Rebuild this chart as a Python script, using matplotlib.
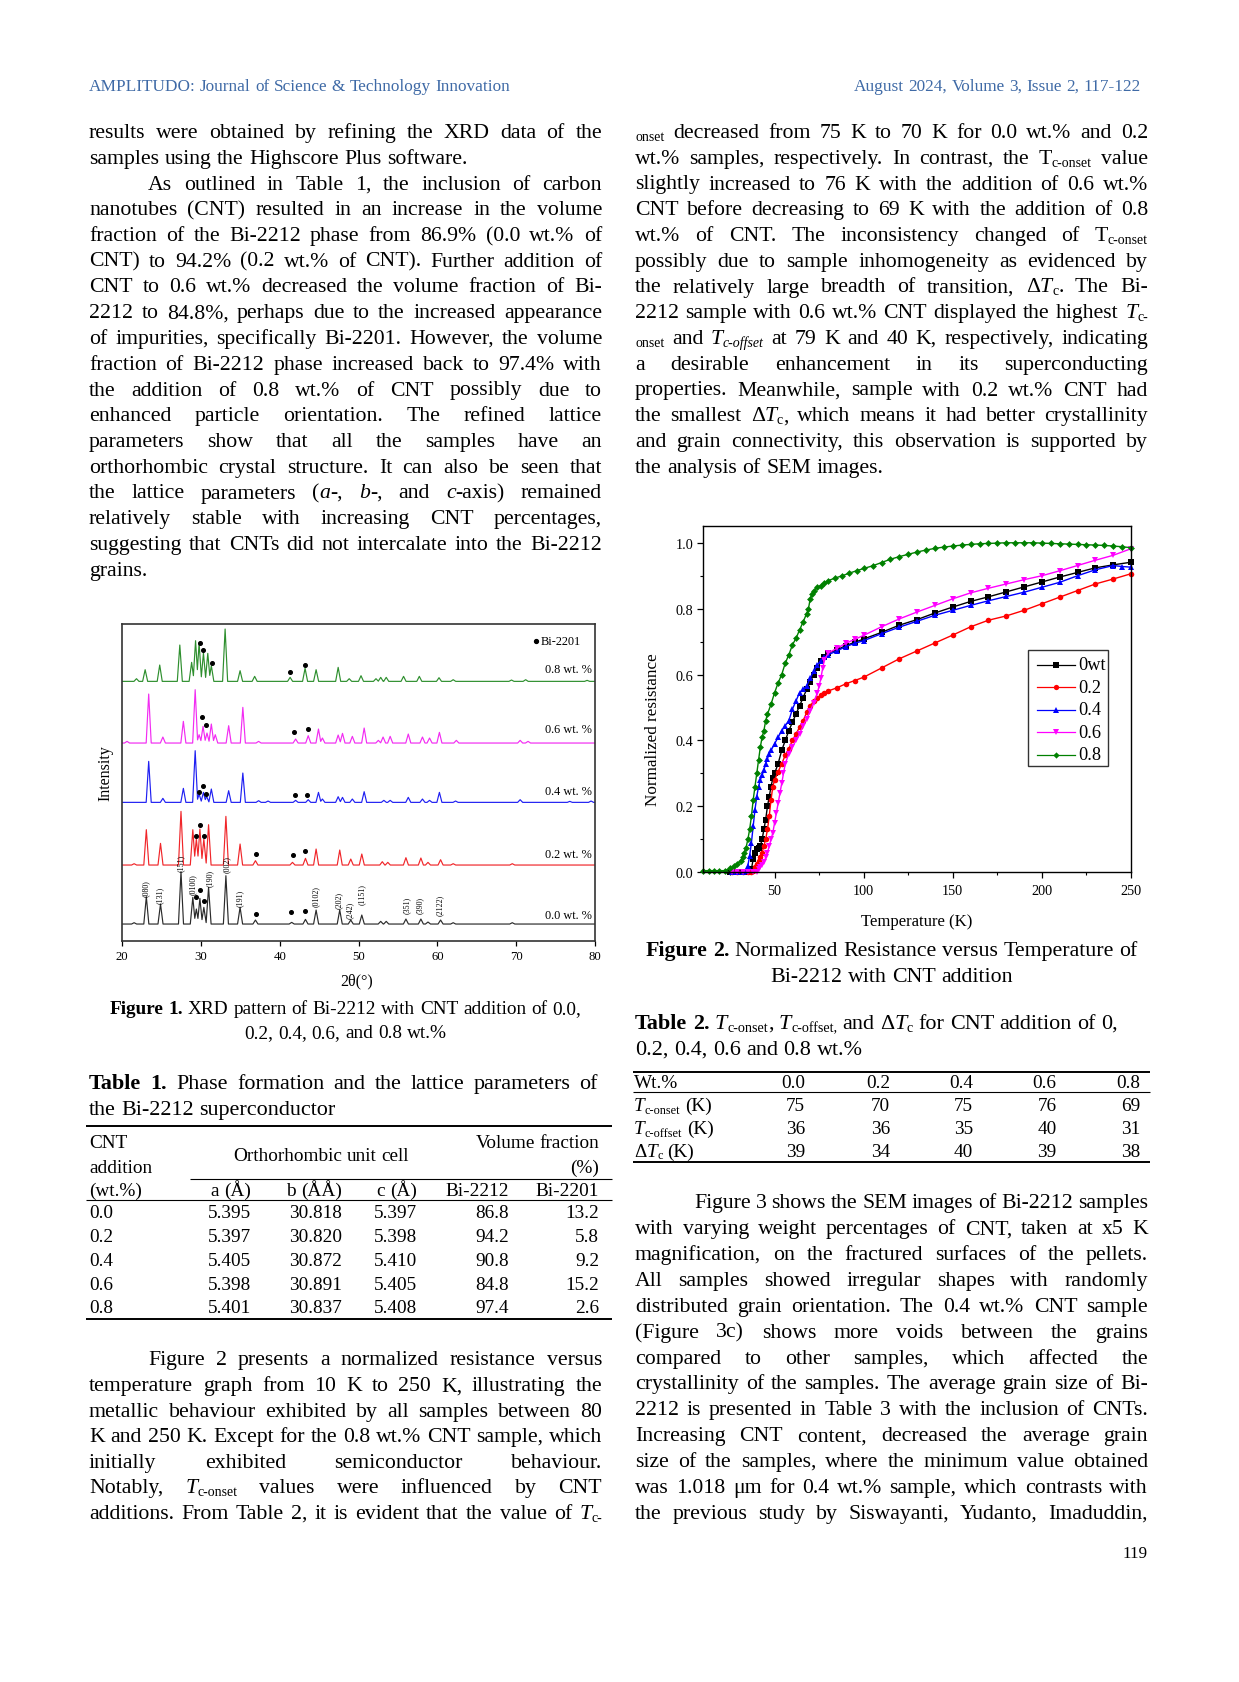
import re
import matplotlib
matplotlib.use('Agg')
import matplotlib.pyplot as plt
from matplotlib.ticker import MultipleLocator, FormatStrFormatter
from matplotlib.patches import Rectangle

# ---------------------------------------------------------------- data
# Figure 1 (XRD) : peak positions (2theta, deg) and heights (arb. units) per sample
xrd_labels = ["0.0 wt. %", "0.2 wt. %", "0.4 wt. %", "0.6 wt. %", "0.8 wt. %"]
xrd_colors = ["#2b2b2b", "#f0262a", "#1f1ff2", "#f22cf2", "#2e8f2e"]
xrd_base = [50, 227, 415, 593, 778]
xrd_label_y = [77, 260, 450, 635, 815]

pos_00 = [21.5, 23.05, 24.85, 27.45, 28.95, 29.4, 29.85, 30.35, 30.95, 33.15, 34.95, 36.9, 41.5, 43.25,
          44.6, 47.6, 49.0, 50.4, 52.8, 53.5, 56.0, 57.9, 58.8, 60.4, 62.0, 69.5]
h_00 = [4, 82, 60, 157, 80, 45, 77, 50, 110, 145, 50, 12, 5, 14, 42, 42, 12, 27, 8, 8, 15, 15, 6, 12, 4, 4]

pos_02 = [21.5, 23.05, 24.85, 27.45, 28.95, 29.4, 29.85, 30.35, 30.95, 33.15, 34.95, 36.9, 41.6, 43.25,
          44.6, 47.6, 49.0, 50.4, 53.0, 53.7, 56.0, 57.9, 58.8, 60.4, 62.0, 69.5]
h_02 = [4, 106, 65, 161, 106, 78, 108, 78, 121, 146, 63, 13, 8, 20, 48, 45, 18, 33, 10, 8, 22, 21, 8, 16, 4, 4]

pos_04 = [23.35, 25.15, 27.75, 29.25, 29.75, 30.3, 30.7, 31.3, 33.5, 35.3, 37.3, 38.5, 42.0, 43.6, 44.9,
          45.4, 47.4, 47.95, 49.2, 50.7, 53.2, 54.0, 56.3, 58.1, 59.0, 60.25, 62.3, 70.5, 76.8, 79.5]
h_04 = [123, 12, 42, 155, 25, 30, 18, 40, 35, 88, 5, 4, 6, 8, 30, 10, 17, 15, 10, 32, 6, 6, 15, 10, 6, 30,
        4, 8, 3, 4]

pos_06 = [20.6, 23.35, 25.15, 27.75, 29.25, 29.75, 30.25, 30.75, 31.3, 31.8, 33.5, 35.3, 37.3, 42.0, 43.6,
          44.9, 45.4, 47.4, 47.95, 49.2, 50.7, 52.5, 53.1, 54.0, 56.3, 58.1, 59.0, 60.25, 62.4, 70.5, 71.5]
h_06 = [5, 147, 18, 65, 160, 25, 50, 30, 57, 25, 52, 107, 5, 12, 22, 42, 15, 24, 29, 20, 45, 8, 18, 20, 27,
        18, 15, 32, 8, 8, 5]

pos_08 = [21.8, 22.9, 24.75, 27.3, 28.8, 29.3, 29.75, 30.3, 30.85, 31.3, 33.05, 34.95, 36.8, 41.3, 43.2,
          44.6, 47.4, 48.8, 50.3, 52.2, 52.8, 53.5, 55.7, 57.7, 60.2, 62.0, 69.4, 71.2, 79.0]
h_08 = [8, 35, 49, 109, 57, 122, 115, 85, 84, 47, 157, 32, 15, 12, 39, 35, 42, 8, 17, 8, 12, 12, 15, 15,
        11, 5, 4, 5, 3]

# Bi-2201 markers (2theta, absolute height)
dots_x = [29.35, 29.9, 30.41, 36.97, 41.41, 43.23,
          29.35, 29.9, 30.41, 36.97, 41.71, 43.23,
          29.73, 30.28, 30.62, 41.96, 43.49,
          30.16, 30.66, 41.8, 43.6,
          29.9, 30.28, 31.34, 41.29, 43.23]
dots_y = [130, 153, 120, 81, 85, 90,
          315, 348, 315, 261, 258, 270,
          447, 465, 440, 437, 437,
          672, 647, 627, 636,
          893, 873, 834, 807, 828]

hkl_text = ["(080)", "(131)", "(151)", "(0100)", "(190)", "(002)", "(191)", "(0102)", "(202)", "(242)",
            "(1151)", "(351)", "(390)", "(2122)"]
hkl_x = [22.96, 24.82, 27.45, 28.9, 31.05, 33.25, 34.94, 44.6, 47.47, 48.82, 50.4, 56.1, 57.8, 60.33]
hkl_y = [160, 140, 235, 170, 190, 230, 130, 135, 125, 95, 140, 110, 110, 110]

# Figure 2 (normalized resistance vs temperature)
res_names = ["0wt", "0.2", "0.4", "0.6", "0.8"]
res_colors = ["#000000", "#ff0000", "#0000ff", "#ff00ff", "#008000"]
res_markers = ["s", "o", "^", "v", "D"]

T_00 = [25, 28, 31, 34, 36, 37, 38, 39, 40, 41, 42, 43, 44, 45, 46, 47, 48, 49, 50, 52, 54, 56, 58, 60, 62,
        64, 66, 68, 70, 72, 74, 76, 78, 80, 85, 90, 95, 100, 110, 120, 130, 140, 150, 160, 170, 180, 190,
        200, 210, 220, 230, 240, 250]
R_00 = [0, 0, 0, 0, 0, 0.01, 0.04, 0.06, 0.07, 0.075, 0.08, 0.10, 0.13, 0.16, 0.20, 0.23, 0.26, 0.285, 0.30,
        0.33, 0.37, 0.40, 0.43, 0.455, 0.48, 0.505, 0.53, 0.555, 0.577, 0.60, 0.62, 0.64, 0.652, 0.665,
        0.675, 0.688, 0.698, 0.708, 0.728, 0.75, 0.767, 0.787, 0.805, 0.822, 0.836, 0.851, 0.866, 0.881,
        0.896, 0.91, 0.924, 0.933, 0.941]

T_02 = [26, 29, 32, 35, 37, 38, 39, 40, 41, 42, 43, 44, 45, 46, 47, 48, 49, 50, 52, 54, 56, 58, 60, 62, 64,
        66, 68, 70, 72, 74, 76, 78, 80, 85, 90, 95, 100, 110, 120, 130, 140, 150, 160, 170, 180, 190, 200,
        210, 220, 230, 240, 250]
R_02 = [0, 0, 0, 0, 0, 0.005, 0.015, 0.025, 0.035, 0.045, 0.06, 0.08, 0.10, 0.13, 0.17, 0.22, 0.26, 0.28,
        0.305, 0.33, 0.355, 0.375, 0.40, 0.42, 0.44, 0.46, 0.485, 0.505, 0.52, 0.53, 0.537, 0.543, 0.55,
        0.56, 0.572, 0.582, 0.592, 0.62, 0.648, 0.672, 0.696, 0.72, 0.745, 0.765, 0.778, 0.795, 0.815,
        0.835, 0.855, 0.875, 0.89, 0.906]

T_04 = [26, 29, 32, 34, 35, 36, 37, 38, 39, 40, 41, 42, 43, 44, 45, 46, 47, 48, 50, 52, 54, 56, 58, 60, 62,
        64, 66, 68, 70, 72, 74, 76, 78, 80, 85, 90, 95, 100, 110, 120, 130, 140, 150, 160, 170, 180, 190,
        200, 210, 220, 230, 240, 245, 250]
R_04 = [0, 0, 0, 0.005, 0.02, 0.05, 0.09, 0.14, 0.19, 0.23, 0.26, 0.28, 0.295, 0.31, 0.33, 0.345, 0.36,
        0.37, 0.39, 0.41, 0.43, 0.445, 0.46, 0.495, 0.52, 0.545, 0.555, 0.565, 0.59, 0.61, 0.63, 0.642,
        0.652, 0.66, 0.672, 0.685, 0.695, 0.703, 0.724, 0.744, 0.762, 0.78, 0.795, 0.81, 0.824, 0.837,
        0.85, 0.865, 0.88, 0.90, 0.918, 0.931, 0.928, 0.926]

T_06 = [26, 29, 32, 35, 38, 40, 41, 42, 43, 44, 45, 46, 47, 48, 49, 50, 51, 52, 53, 54, 55, 56, 58, 60, 62,
        64, 66, 68, 70, 72, 74, 75, 76, 77, 78, 80, 85, 90, 95, 100, 110, 120, 130, 140, 150, 160, 170, 180,
        190, 200, 210, 220, 230, 240, 250]
R_06 = [0, 0, 0, 0, 0, 0.002, 0.01, 0.015, 0.022, 0.03, 0.045, 0.06, 0.08, 0.10, 0.12, 0.15, 0.18, 0.21,
        0.24, 0.27, 0.30, 0.33, 0.36, 0.38, 0.40, 0.42, 0.445, 0.465, 0.49, 0.515, 0.545, 0.565, 0.59, 0.62,
        0.645, 0.665, 0.68, 0.695, 0.707, 0.719, 0.745, 0.769, 0.79, 0.81, 0.83, 0.848, 0.862, 0.875,
        0.888, 0.9, 0.915, 0.931, 0.947, 0.962, 0.982]

T_08 = [10, 13, 16, 19, 22, 25, 27, 29, 31, 32, 33, 34, 35, 36, 37, 38, 39, 40, 41, 42, 43, 44, 45, 46, 48,
        50, 52, 54, 56, 58, 60, 62, 64, 66, 68, 69, 70, 71, 72, 74, 76, 78, 80, 84, 88, 92, 96, 100, 105,
        110, 115, 120, 125, 130, 135, 140, 145, 150, 155, 160, 165, 170, 175, 180, 185, 190, 195, 200,
        205, 210, 215, 220, 225, 230, 235, 240, 245, 250]
R_08 = [0.005, 0.005, 0.005, 0.005, 0.005, 0.012, 0.018, 0.025, 0.035, 0.045, 0.06, 0.075, 0.10, 0.13,
        0.17, 0.22, 0.26, 0.30, 0.34, 0.38, 0.41, 0.43, 0.46, 0.48, 0.51, 0.545, 0.575, 0.60, 0.635, 0.66,
        0.69, 0.71, 0.735, 0.76, 0.785, 0.80, 0.83, 0.845, 0.855, 0.865, 0.87, 0.878, 0.885, 0.893, 0.90,
        0.908, 0.915, 0.922, 0.93, 0.94, 0.95, 0.958, 0.965, 0.972, 0.978, 0.983, 0.987, 0.99, 0.993,
        0.995, 0.997, 0.998, 0.999, 1.0, 1.0, 1.0, 1.0, 0.999, 0.998, 0.997, 0.996, 0.995, 0.994, 0.993,
        0.992, 0.99, 0.988, 0.985]

# Table 1
t1_cnt = ["0.0", "0.2", "0.4", "0.6", "0.8"]
t1_a = ["5.395", "5.397", "5.405", "5.398", "5.401"]
t1_b = ["30.818", "30.820", "30.872", "30.891", "30.837"]
t1_c = ["5.397", "5.398", "5.410", "5.405", "5.408"]
t1_2212 = ["86.8", "94.2", "90.8", "84.8", "97.4"]
t1_2201 = ["13.2", "5.8", "9.2", "15.2", "2.6"]

# Table 2
t2_wt = ["0.0", "0.2", "0.4", "0.6", "0.8"]
t2_onset = ["75", "70", "75", "76", "69"]
t2_offset = ["36", "36", "35", "40", "31"]
t2_dtc = ["39", "34", "40", "39", "38"]

# ---------------------------------------------------------------- page setup
W, H = 1239, 1683
SERIF = 'Liberation Serif'
PX = 100 / 72.0
plt.rcParams['font.family'] = [SERIF, 'DejaVu Serif']

fig = plt.figure(figsize=(W / 100, H / 100), dpi=100)
fig.patch.set_facecolor('white')
page = fig.add_axes([0, 0, 1, 1], zorder=10)
page.set_xlim(0, W)
page.set_ylim(H, 0)
page.axis('off')
page.patch.set_alpha(0)
renderer = fig.canvas.get_renderer()


def px_axes(x0, y0, x1, y1):
    return fig.add_axes([x0 / W, 1 - y1 / H, (x1 - x0) / W, (y1 - y0) / H])


def props(st, size):
    d = dict(family=[SERIF, 'DejaVu Serif'], fontsize=size)
    if 'i' in st:
        d['style'] = 'italic'
    if 'b' in st:
        d['weight'] = 'bold'
    if 's' in st:
        d['fontsize'] = size * 0.64
    return d


_cache = {}


def twidth(text, st, size):
    key = (text, st, round(size, 3))
    if key not in _cache:
        t = page.text(0, 0, text, **props(st, size))
        _cache[key] = t.get_window_extent(renderer).width
        t.remove()
    return _cache[key]


def space(size):
    return twidth('n n', 'n', size) - twidth('nn', 'n', size)


def parse(s):
    runs, pos = [], 0
    for m in re.finditer(r'\{([a-z]+):([^}]*)\}', s):
        if m.start() > pos:
            runs.append((s[pos:m.start()], 'n'))
        runs.append((m.group(2), m.group(1)))
        pos = m.end()
    if pos < len(s):
        runs.append((s[pos:], 'n'))
    words = [[]]
    for text, st in runs:
        parts = text.split(' ')
        for j, p in enumerate(parts):
            if j > 0:
                words.append([])
            if p:
                words[-1].append((p, st))
    return [w for w in words if w]


def natural_width(s, size):
    ws = parse(s)
    return sum(twidth(t, st, size) for w in ws for t, st in w) + space(size) * (len(ws) - 1)


def fit(s, target, base=16.0):
    return base * target / natural_width(s, base)


def draw_line(x0, x1, y, s, size, mode='j', indent=0, color='black'):
    ws = parse(s)
    wid = [sum(twidth(t, st, size) for t, st in w) for w in ws]
    sp = space(size)
    total = sum(wid) + sp * (len(ws) - 1)
    gap = sp
    if mode == 'j' and len(ws) > 1:
        g = (x1 - x0 - indent - sum(wid)) / (len(ws) - 1)
        gap = max(g, 0.3 * sp)
        x = x0 + indent
    elif mode == 'c':
        x = (x0 + x1) / 2 - total / 2
    elif mode == 'r':
        x = x1 - total
    else:
        x = x0 + indent
    for w, ww in zip(ws, wid):
        cx = x
        for t, st in w:
            dy = 0.13 * size * PX if 's' in st else 0
            page.text(cx, y + dy, t, ha='left', va='baseline', color=color, **props(st, size))
            cx += twidth(t, st, size)
        x += ww + gap


def paragraph(lines, x0, x1, base0, step, size):
    for k, item in enumerate(lines):
        s, mode = item[0], item[1]
        ind = item[2] if len(item) > 2 else 0
        draw_line(x0, x1, base0 + step * k, s, size, mode, indent=ind)


# ---------------------------------------------------------------- text content
IND = 59
LX0, LX1 = 89, 602
RX0, RX1 = 635, 1148
BODY = 0.95 * fit("samples using the Highscore Plus software.", 397.5)

left_top = [
    ("results were obtained by refining the XRD data of the", 'j'),
    ("samples using the Highscore Plus software.", 'l'),
    ("As outlined in Table 1, the inclusion of carbon", 'j', IND),
    ("nanotubes (CNT) resulted in an increase in the volume", 'j'),
    ("fraction of the Bi-2212 phase from 86.9% (0.0 wt.% of", 'j'),
    ("CNT) to 94.2% (0.2 wt.% of CNT). Further addition of", 'j'),
    ("CNT to 0.6 wt.% decreased the volume fraction of Bi-", 'j'),
    ("2212 to 84.8%, perhaps due to the increased appearance", 'j'),
    ("of impurities, specifically Bi-2201. However, the volume", 'j'),
    ("fraction of Bi-2212 phase increased back to 97.4% with", 'j'),
    ("the addition of 0.8 wt.% of CNT possibly due to", 'j'),
    ("enhanced particle orientation. The refined lattice", 'j'),
    ("parameters show that all the samples have an", 'j'),
    ("orthorhombic crystal structure. It can also be seen that", 'j'),
    ("the lattice parameters ({i:a}-, {i:b}-, and {i:c}-axis) remained", 'j'),
    ("relatively stable with increasing CNT percentages,", 'j'),
    ("suggesting that CNTs did not intercalate into the Bi-2212", 'j'),
    ("grains.", 'l'),
]

left_bottom = [
    ("Figure 2 presents a normalized resistance versus", 'j', IND),
    ("temperature graph from 10 K to 250 K, illustrating the", 'j'),
    ("metallic behaviour exhibited by all samples between 80", 'j'),
    ("K and 250 K. Except for the 0.8 wt.% CNT sample, which", 'j'),
    ("initially exhibited semiconductor behaviour.", 'j'),
    ("Notably, {i:T}{s:c-onset} values were influenced by CNT", 'j'),
    ("additions. From Table 2, it is evident that the value of {i:T}{s:c-}", 'j'),
]

right_top = [
    ("{s:onset} decreased from 75 K to 70 K for 0.0 wt.% and 0.2", 'j'),
    ("wt.% samples, respectively. In contrast, the T{s:c-onset} value", 'j'),
    ("slightly increased to 76 K with the addition of 0.6 wt.%", 'j'),
    ("CNT before decreasing to 69 K with the addition of 0.8", 'j'),
    ("wt.% of CNT. The inconsistency changed of T{s:c-onset}", 'j'),
    ("possibly due to sample inhomogeneity as evidenced by", 'j'),
    ("the relatively large breadth of transition, Δ{i:T}{s:c}. The Bi-", 'j'),
    ("2212 sample with 0.6 wt.% CNT displayed the highest {i:T}{s:c-}", 'j'),
    ("{s:onset} and {i:T}{si:c-offset} at 79 K and 40 K, respectively, indicating", 'j'),
    ("a desirable enhancement in its superconducting", 'j'),
    ("properties. Meanwhile, sample with 0.2 wt.% CNT had", 'j'),
    ("the smallest Δ{i:T}{s:c}, which means it had better crystallinity", 'j'),
    ("and grain connectivity, this observation is supported by", 'j'),
    ("the analysis of SEM images.", 'l'),
]

right_bottom = [
    ("Figure 3 shows the SEM images of Bi-2212 samples", 'j', IND),
    ("with varying weight percentages of CNT, taken at x5 K", 'j'),
    ("magnification, on the fractured surfaces of the pellets.", 'j'),
    ("All samples showed irregular shapes with randomly", 'j'),
    ("distributed grain orientation. The 0.4 wt.% CNT sample", 'j'),
    ("(Figure 3c) shows more voids between the grains", 'j'),
    ("compared to other samples, which affected the", 'j'),
    ("crystallinity of the samples. The average grain size of Bi-", 'j'),
    ("2212 is presented in Table 3 with the inclusion of CNTs.", 'j'),
    ("Increasing CNT content, decreased the average grain", 'j'),
    ("size of the samples, where the minimum value obtained", 'j'),
    ("was 1.018 μm for 0.4 wt.% sample, which contrasts with", 'j'),
    ("the previous study by Siswayanti, Yudanto, Imaduddin,", 'j'),
]

# header
HDR_COLOR = '#3f6aa6'
hl = "AMPLITUDO: Journal of Science & Technology Innovation"
hr = "August 2024, Volume 3, Issue 2, 117-122"
draw_line(89, 1141, 91, hl, 0.97 * fit(hl, 435), 'l', color=HDR_COLOR)
draw_line(89, 1141, 91, hr, 0.97 * fit(hr, 295), 'r', color=HDR_COLOR)

paragraph(left_top, LX0, LX1, 138, 25.75, BODY)
paragraph(right_top, RX0, RX1, 138, 25.75, BODY)
paragraph(left_bottom, LX0, LX1, 1365.5, 25.55, BODY)
paragraph(right_bottom, RX0, RX1, 1208.5, 25.84, BODY)

# captions
c1 = "{b:Figure 1.} XRD pattern of Bi-2212 with CNT addition of 0.0,"
CAP1 = 0.97 * fit(c1, 486)
draw_line(LX0, LX1, 1014.5, c1, CAP1, 'c')
draw_line(LX0, LX1, 1038, "0.2, 0.4, 0.6, and 0.8 wt.%", CAP1, 'c')

c2 = "{b:Figure 2.} Normalized Resistance versus Temperature of"
CAP2 = 0.97 * fit(c2, 508)
draw_line(RX0, RX1, 956.5, c2, CAP2, 'c')
draw_line(RX0, RX1, 982, "Bi-2212 with CNT addition", CAP2, 'c')

tc2 = "{b:Table 2.} {i:T}{s:c-onset}, {i:T}{s:c-offset,} and Δ{i:T}{s:c} for CNT addition of 0,"
CAPT = 0.97 * fit(tc2, 500)
draw_line(RX0, RX1, 1029, tc2, CAPT, 'l')
draw_line(RX0, RX1, 1055, "0.2, 0.4, 0.6 and 0.8 wt.%", CAPT, 'l')

draw_line(LX0, LX1 - 4, 1089, "{b:Table 1.} Phase formation and the lattice parameters of", CAPT, 'j')
draw_line(LX0, LX1, 1115, "the Bi-2212 superconductor", CAPT, 'l')

# page number
draw_line(LX0, RX1, 1558, "119", fit("119", 25), 'r')

# ---------------------------------------------------------------- Table 1
TS = 0.93 * fit("Orthorhombic unit cell", 189.5)
OFF = 0.33 * TS * PX
T1L, T1R = 86, 612
for yy, lw, xa in [(1127, 1.4, T1L), (1179.5, 0.8, 189.5), (1200.5, 0.8, T1L), (1319.5, 1.4, T1L)]:
    page.plot([xa, T1R], [yy, yy], color='black', lw=lw, solid_capstyle='butt')
draw_line(89.5, 600, 1142 + OFF, "CNT", TS, 'l')
draw_line(89.5, 600, 1167 + OFF, "addition", TS, 'l')
draw_line(89.5, 600, 1190 + OFF, "(wt.%)", TS, 'l')
draw_line(200, 442, 1155 + OFF, "Orthorhombic unit cell", TS, 'c')
draw_line(420, 599.3, 1142 + OFF, "Volume fraction", TS, 'r')
draw_line(420, 599.3, 1167 + OFF, "(%)", TS, 'r')
col_r = [251, 341.7, 416.8, 508.7, 599.3]
heads = ["a (Å)", "b (ÅÅ)", "c (Å)", "Bi-2212", "Bi-2201"]
for xr, hd in zip(col_r, heads):
    draw_line(xr - 150, xr, 1190 + OFF, hd, TS, 'r')
row_y1 = [1212, 1235.8, 1259.5, 1283.2, 1307]
for i in range(len(t1_cnt)):
    yb = row_y1[i] + OFF
    draw_line(89.5, 300, yb, t1_cnt[i], TS, 'l')
    for xr, val in zip(col_r, [t1_a[i], t1_b[i], t1_c[i], t1_2212[i], t1_2201[i]]):
        draw_line(xr - 150, xr, yb, val, TS, 'r')

# ---------------------------------------------------------------- Table 2
T2L, T2R = 633, 1150
for yy, lw in [(1073.3, 1.4), (1092.5, 0.8), (1163.3, 1.4)]:
    page.plot([T2L, T2R], [yy, yy], color='black', lw=lw, solid_capstyle='butt')
col2_r = [805, 890, 973, 1056.7, 1140]
draw_line(634, 800, 1082 + OFF, "Wt.%", TS, 'l')
for xr, v in zip(col2_r, t2_wt):
    draw_line(xr - 80, xr, 1082 + OFF, v, TS, 'r')
row_names2 = ["{i:T}{s:c-onset} (K)", "{i:T}{s:c-offset} (K)", "Δ{i:T}{s:c} (K)"]
row_vals2 = [t2_onset, t2_offset, t2_dtc]
row_y2 = [1105, 1128, 1150.5]
for nm, vals, yc in zip(row_names2, row_vals2, row_y2):
    draw_line(634, 800, yc + OFF, nm, TS, 'l')
    for xr, v in zip(col2_r, vals):
        draw_line(xr - 80, xr, yc + OFF, v, TS, 'r')

# ---------------------------------------------------------------- Figure 1 (XRD)
ax1 = px_axes(122.3, 624.7, 595, 941.7)
ax1.set_xlim(20, 80)
ax1.set_ylim(0, 951)
PW = 0.32
xrd_pos = [pos_00, pos_02, pos_04, pos_06, pos_08]
xrd_h = [h_00, h_02, h_04, h_06, h_08]
for pos, hh, base, col in zip(xrd_pos, xrd_h, xrd_base, xrd_colors):
    pk = sorted(zip(pos, hh))
    xs, ys = [20.0], [base]
    for i, (p, v) in enumerate(pk):
        # rising flank: from the previous valley or from the baseline
        if i > 0 and pk[i - 1][0] + PW > p - PW:
            pass  # valley already added
        else:
            xs.append(p - PW)
            ys.append(base)
        xs.append(p)
        ys.append(base + v)
        if i + 1 < len(pk) and p + PW > pk[i + 1][0] - PW:
            p2, v2 = pk[i + 1]
            xv = (v * (p + PW) + v2 * (p2 - PW)) / (v + v2)
            yv = base + v * (1 - (xv - p) / PW)
            xs.append(xv)
            ys.append(yv)
        else:
            xs.append(p + PW)
            ys.append(base)
    xs.append(80.0)
    ys.append(base)
    ax1.plot(xs, ys, color=col, lw=0.85)
ax1.plot(dots_x, dots_y, 'o', color='black', ms=2.6, ls='none')
for lab, yy in zip(xrd_labels, xrd_label_y):
    ax1.text(79.6, yy, lab, ha='right', va='center', fontsize=8.8)
ax1.plot([72.52], [899], 'o', color='black', ms=2.8)
ax1.text(73.1, 899, "Bi-2201", ha='left', va='center', fontsize=8.8)
for t, x, y in zip(hkl_text, hkl_x, hkl_y):
    ax1.text(x, y, t, rotation=90, ha='center', va='center', fontsize=5.8)
ax1.set_xticks([20, 30, 40, 50, 60, 70, 80])
ax1.set_yticks([])
ax1.tick_params(axis='x', direction='out', length=3.5, width=0.9, labelsize=9.2, pad=3.5)
for sp in ax1.spines.values():
    sp.set_linewidth(1.2)
    sp.set_color('#333333')
page.text(357, 981, "2θ(°)", ha='center', va='center', fontsize=11.5)
page.text(105, 773, "Intensity", ha='center', va='center', rotation=90, fontsize=11.5)

# ---------------------------------------------------------------- Figure 2 (R-T)
ax2 = px_axes(703.3, 527.3, 1131, 873.3)
ax2.set_xlim(10, 250)
ax2.set_ylim(0, 1.05)
series_T = [T_00, T_02, T_04, T_06, T_08]
series_R = [R_00, R_02, R_04, R_06, R_08]
for T, R, c, m in zip(series_T, series_R, res_colors, res_markers):
    ax2.plot(T, R, color=c, marker=m, ms=4.0 if m != 'D' else 3.5, mew=0, lw=1.0, clip_on=False)
ax2.xaxis.set_major_locator(MultipleLocator(50))
ax2.xaxis.set_minor_locator(MultipleLocator(25))
ax2.yaxis.set_major_locator(MultipleLocator(0.2))
ax2.yaxis.set_minor_locator(MultipleLocator(0.1))
ax2.yaxis.set_major_formatter(FormatStrFormatter('%.1f'))
ax2.tick_params(which='major', direction='out', length=4, width=0.9, labelsize=10.3)
ax2.tick_params(which='minor', direction='out', length=2.5, width=0.8)
ax2.tick_params(axis='x', pad=4.5)
ax2.tick_params(axis='y', pad=3)
for sp in ax2.spines.values():
    sp.set_linewidth(1.0)
page.text(917, 922, "Temperature (K)", ha='center', va='center', fontsize=12)
page.text(653, 730, "Normalized resistance", ha='center', va='center', rotation=90, fontsize=12.3)

# legend (drawn in page pixel coordinates)
page.add_patch(Rectangle((1028, 650.7), 80, 116, fill=False, lw=1.0, ec='#333333'))
leg_y = [665.7, 688.3, 711, 733.3, 756]
for nm, c, m, yy in zip(res_names, res_colors, res_markers, leg_y):
    page.plot([1037.3, 1075], [yy, yy], color=c, lw=0.9)
    page.plot([1056], [yy], marker=m, color=c, ms=3.8 if m != 'D' else 3.2, mew=0)
    page.text(1078.5, yy, nm, ha='left', va='center', fontsize=13.2)

fig.savefig('out.png', dpi=100, facecolor='white')
